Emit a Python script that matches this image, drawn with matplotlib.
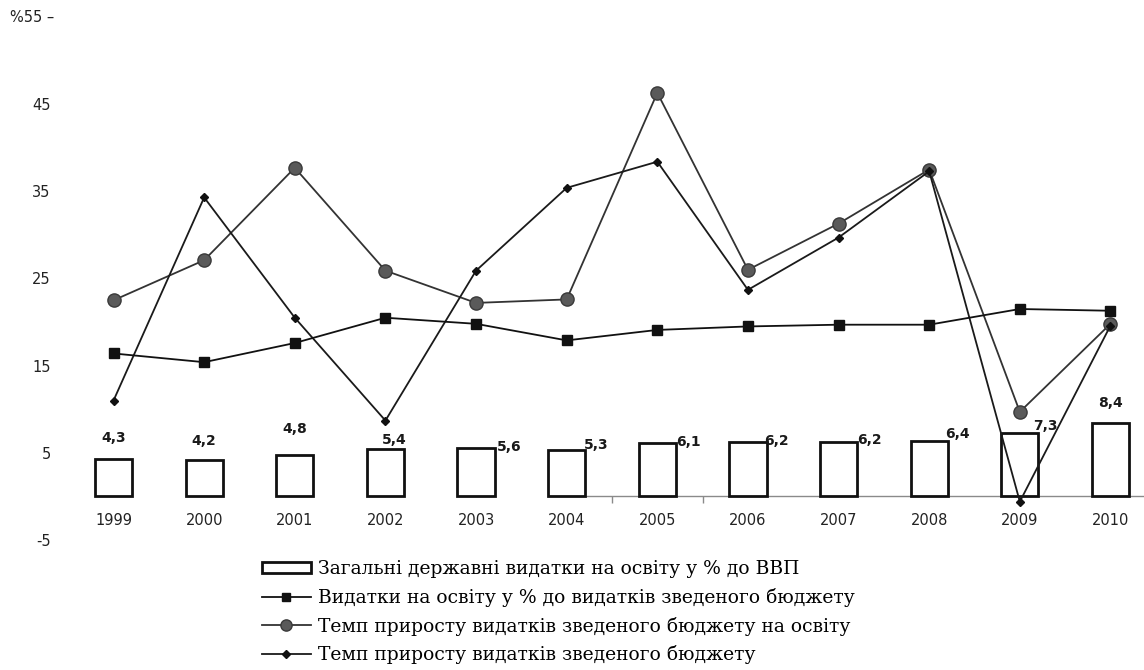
import matplotlib
matplotlib.use("Agg")
import matplotlib.pyplot as plt
import numpy as np

# --- data -------------------------------------------------------------
years = ["1999", "2000", "2001", "2002", "2003", "2004",
         "2005", "2006", "2007", "2008", "2009", "2010"]

# total public spending on education, % of GDP (bars)
edu_gdp = [4.3, 4.2, 4.8, 5.4, 5.6, 5.3, 6.1, 6.2, 6.2, 6.4, 7.3, 8.4]
edu_gdp_labels = ["4,3", "4,2", "4,8", "5,4", "5,6", "5,3",
                  "6,1", "6,2", "6,2", "6,4", "7,3", "8,4"]

# education spending, % of consolidated budget spending
edu_budget_share = [16.4, 15.4, 17.6, 20.5, 19.8, 17.9,
                    19.1, 19.5, 19.7, 19.7, 21.5, 21.3]

# growth rate of consolidated budget spending on education
edu_growth = [22.5, 27.1, 37.7, 25.9, 22.2, 22.6,
              46.3, 26.0, 31.3, 37.5, 9.7, 19.8]

# growth rate of consolidated budget spending
budget_growth = [11.0, 34.3, 20.5, 8.7, 25.9, 35.4,
                 38.4, 23.7, 29.7, 37.3, -0.6, 19.6]

y_ticks = [-5, 5, 15, 25, 35, 45]

legend_labels = [
    "Загальні державні видатки на освіту у % до ВВП",
    "Видатки на освіту у % до видатків зведеного бюджету",
    "Темп приросту видатків зведеного бюджету на освіту",
    "Темп приросту видатків зведеного бюджету",
]

# value-label placement (pixel offsets from bar centre / bar top)
label_offsets = [(0, 21), (0, 19), (0, 26), (9, 9), (33, 1), (30, 5),
                 (31, 1), (28, 1), (31, 2), (28, 7), (26, 7), (0, 20)]

# --- figure -----------------------------------------------------------
W, H = 1144, 670
fig = plt.figure(figsize=(W / 100, H / 100), dpi=100)
fig.patch.set_facecolor("white")
ax = fig.add_axes([0.0517, 1 - 540 / H, 0.9483, (540 - 17) / H])
ax.set_xlim(-0.6, 11.37)
ax.set_ylim(-5, 55)
for s in ax.spines.values():
    s.set_visible(False)

num_font = "DejaVu Sans"
x = np.arange(len(years))

bars = ax.bar(x, edu_gdp, width=0.41, facecolor="white",
              edgecolor="#111111", linewidth=2.0, zorder=2,
              label=legend_labels[0])

# partial category baseline with boundary ticks
ax.plot([5.2, 11.37], [0, 0], color="#8a8a8a", lw=1.0, zorder=1,
        clip_on=False)
ax.vlines([5.5, 6.5], -0.7, 0, color="#8a8a8a", lw=1.0, zorder=1)

l1, = ax.plot(x, edu_budget_share, color="#111111", lw=1.3,
              marker="s", markersize=7.5, markerfacecolor="#111111",
              markeredgecolor="#111111", zorder=4, label=legend_labels[1])
l2, = ax.plot(x, edu_growth, color="#333333", lw=1.3,
              marker="o", markersize=9.5, markerfacecolor="#5a5a5a",
              markeredgecolor="#3a3a3a", zorder=3, label=legend_labels[2])
l3, = ax.plot(x, budget_growth, color="#1a1a1a", lw=1.3,
              marker="D", markersize=4.5, markerfacecolor="#111111",
              markeredgecolor="#111111", zorder=3, label=legend_labels[3])

# value labels on bars
for xi, val, txt, (dx, dy) in zip(x, edu_gdp, edu_gdp_labels, label_offsets):
    ax.annotate(txt, xy=(xi, val), xytext=(dx, dy),
                textcoords="offset pixels", ha="center", va="center",
                fontsize=10, fontweight="bold", family=num_font,
                color="#1a1a1a", zorder=5)

# category labels below the baseline
for xi, yr in zip(x, years):
    ax.text(xi, -2.75, yr, ha="center", va="center", fontsize=10.5,
            family=num_font, color="#222222")

ax.set_xticks([])
ax.set_yticks(y_ticks)
ax.set_yticklabels([str(v) for v in y_ticks], family=num_font,
                   fontsize=10.5, color="#222222")
ax.tick_params(axis="y", length=0, pad=6)

fig.text(10 / W, 1 - 17 / H, "%55 –", ha="left", va="center",
         fontsize=10.5, family=num_font, color="#222222")

fig.legend(handles=[bars, l1, l2, l3], labels=legend_labels,
           loc="upper left", bbox_to_anchor=(262 / W, 1 - 560 / H),
           frameon=False, prop={"family": "DejaVu Serif", "size": 13.5},
           handlelength=2.6, handleheight=0.55, handletextpad=0.4,
           labelspacing=0.52, borderpad=0, borderaxespad=0,
           markerscale=0.85)

fig.savefig("out.png", dpi=100, facecolor="white")
